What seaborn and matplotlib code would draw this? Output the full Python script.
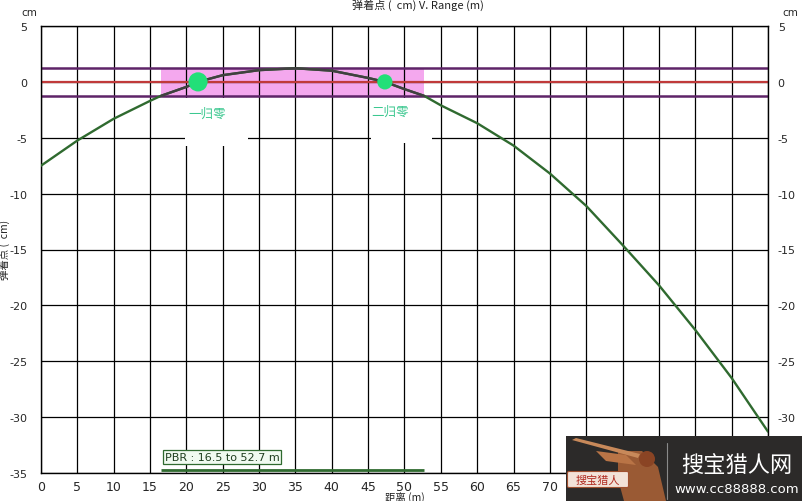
import matplotlib
matplotlib.use("Agg")
import matplotlib.pyplot as plt
import seaborn as sns
import pandas as pd
from matplotlib.patches import Rectangle, Polygon, Circle, FancyBboxPatch

# ---------------- data ----------------
range_m = [0, 5, 10, 15, 16.5, 20, 21.6, 25, 30, 35, 40, 45, 47.3, 50, 52.7,
           55, 60, 65, 70, 75, 80, 85, 90, 95, 100]
drop_cm = [-7.5, -5.25, -3.3, -1.7, -1.25, -0.45, 0.0, 0.6, 1.05, 1.22, 1.0,
           0.35, 0.0, -0.65, -1.25, -2.1, -3.7, -5.7, -8.2, -11.1, -14.6,
           -18.2, -22.2, -26.5, -31.3]

zero_range = [21.6, 47.3]
zero_drop = [0.0, 0.0]
zero_labels = ["一归零", "二归零"]
zero_label_x = [22.8, 48.0]
zero_label_y = [-2.85, -2.65]
zero_sizes = [190, 120]

pbr_start, pbr_end = 16.5, 52.7
band_cm = 1.25
pbr_text = "PBR : 16.5 to 52.7 m"

x_ticks = list(range(0, 101, 5))
y_ticks = list(range(5, -36, -5))

title_text = "弹着点 (  cm) V. Range (m)"
xlabel_text = "距离 (m)"
ylabel_text = "弹着点 (  cm)"

CJK = ["Noto Sans CJK SC", "DejaVu Sans"]
NARROW = ["Liberation Sans Narrow", "DejaVu Sans"]

sns.set_style("white")
plt.rcParams["font.family"] = ["DejaVu Sans", "Noto Sans CJK SC"]
plt.rcParams["axes.unicode_minus"] = False

df = pd.DataFrame({"range": range_m, "drop": drop_cm})
df_pbr = df[(df["range"] >= pbr_start) & (df["range"] <= pbr_end)]
df_zero = pd.DataFrame({"range": zero_range, "drop": zero_drop, "size": zero_sizes})

fig = plt.figure(figsize=(8.03, 5.02), dpi=100)
fig.patch.set_facecolor("white")
ax = fig.add_axes([41 / 803, 28 / 502, 727 / 803, 447 / 502])
ax.set_facecolor("white")

ax.set_xlim(0, 100)
ax.set_ylim(-35, 5)
ax.set_xticks(x_ticks)
ax.set_yticks(y_ticks)
ax.set_axisbelow(True)
ax.grid(True, color="black", lw=0.9)

# pink PBR band
ax.add_patch(Rectangle((pbr_start, -band_cm), pbr_end - pbr_start, 2 * band_cm,
                       facecolor="#f4a8ee", edgecolor="none", zorder=0.2))

# white label backgrounds (cover gridlines)
ax.add_patch(Rectangle((19.8, -5.75), 8.7, 4.3, facecolor="white",
                       edgecolor="none", zorder=0.8))
ax.add_patch(Rectangle((45.4, -5.5), 8.45, 4.1, facecolor="white",
                       edgecolor="none", zorder=0.8))

# horizontal reference lines
ax.axhline(0, color="#c03a3a", lw=1.6, zorder=2)
ax.axhline(band_cm, color="#5e2468", lw=1.8, zorder=2)
ax.axhline(-band_cm, color="#5e2468", lw=1.8, zorder=2)

# trajectory
sns.lineplot(data=df, x="range", y="drop", color="#2f6a2f", lw=1.7,
             ax=ax, zorder=3, estimator=None, sort=True)
sns.lineplot(data=df_pbr, x="range", y="drop", color="#404040", lw=1.7,
             ax=ax, zorder=3.5, estimator=None, sort=True)

# zero points
sns.scatterplot(data=df_zero, x="range", y="drop", size="size",
                sizes=(min(zero_sizes), max(zero_sizes)), color="#22df78",
                edgecolor="none", ax=ax, zorder=4, legend=False)
for lx, ly, lt in zip(zero_label_x, zero_label_y, zero_labels):
    ax.text(lx, ly, lt, color="#3cc890", fontsize=9, family=CJK,
            ha="center", va="center", zorder=5)

# PBR indicator
ax.plot([pbr_start, pbr_end], [-34.75, -34.75], color="#2f6a2f", lw=2.0,
        zorder=3, solid_capstyle="butt")
ax.text(17.0, -33.55, pbr_text, fontsize=8, color="#1f3f1f", ha="left",
        va="center", zorder=5,
        bbox=dict(boxstyle="square,pad=0.18", facecolor="#f0faf0",
                  edgecolor="#2f6a2f", lw=0.9))

ax.set_xlabel("")
ax.set_ylabel("")
for s in ax.spines.values():
    s.set_visible(True)
    s.set_color("black")
    s.set_linewidth(1.0)

ax.tick_params(axis="x", length=0, pad=5, labelsize=9)
for lab, v in zip(ax.get_xticklabels(), x_ticks):
    lab.set_family(NARROW)
    if v > 70:          # hidden behind the watermark in the reference
        lab.set_visible(False)
ax.tick_params(axis="y", length=0, pad=10, labelsize=8)

ax2 = ax.twinx()
ax2.set_ylim(-35, 5)
ax2.set_yticks(y_ticks)
ax2.tick_params(axis="y", length=0, pad=7, labelsize=8)
for lab, v in zip(ax2.get_yticklabels(), y_ticks):
    if v < -30:         # hidden behind the watermark in the reference
        lab.set_visible(False)
for s in ax2.spines.values():
    s.set_visible(False)
ax2.grid(False)

# texts around
fig.text(418 / 803, 1 - 5 / 502, title_text, fontsize=8, family=CJK,
         ha="center", va="center", color="#222222")
fig.text(405 / 803, 4 / 502, xlabel_text, fontsize=7.5, family=CJK,
         ha="center", va="center", color="#222222")
fig.text(4 / 803, 1 - 250 / 502, ylabel_text, fontsize=7.5, family=CJK,
         rotation=90, ha="center", va="center", color="#222222")
fig.text(29 / 803, 1 - 13 / 502, "cm", fontsize=7.5, ha="center", va="center")
fig.text(790 / 803, 1 - 13 / 502, "cm", fontsize=7.5, ha="center", va="center")

# watermark overlay
wm = fig.add_axes([566 / 803, 0, 237 / 803, 65 / 502])
wm.set_xlim(0, 237)
wm.set_ylim(0, 65)
wm.axis("off")
wm.add_patch(Rectangle((0, 0), 237, 65, facecolor="#2c2a29", edgecolor="none"))
wm.add_patch(Polygon([(52, 50), (76, 50), (92, 34), (100, 0), (58, 0), (52, 22)],
                     closed=True, facecolor="#9a5a34", edgecolor="none"))
wm.add_patch(Polygon([(6, 61), (10, 63), (74, 47), (72, 43)], closed=True,
                     facecolor="#c8895a", edgecolor="none"))
wm.add_patch(Circle((81, 42), 8, facecolor="#8a4424", edgecolor="none"))
wm.add_patch(Polygon([(30, 50), (60, 46), (70, 36), (40, 40)], closed=True,
                     facecolor="#b97446", edgecolor="none"))
wm.add_patch(FancyBboxPatch((3, 15), 58, 13, boxstyle="round,pad=1.5",
                            facecolor="#f2e2d8", edgecolor="#a05030", lw=0.8))
wm.text(32, 21.5, "搜宝猎人", fontsize=8, color="#b02a20", family=CJK,
        ha="center", va="center")
wm.plot([101, 101], [2, 58], color="#8a8a8a", lw=0.8)
wm.text(171, 36, "搜宝猎人网", fontsize=16, color="white", family=CJK,
        ha="center", va="center")
wm.text(171, 12.5, "www.cc88888.com", fontsize=9.5, color="white",
        ha="center", va="center")

fig.savefig("out.png", dpi=100)
